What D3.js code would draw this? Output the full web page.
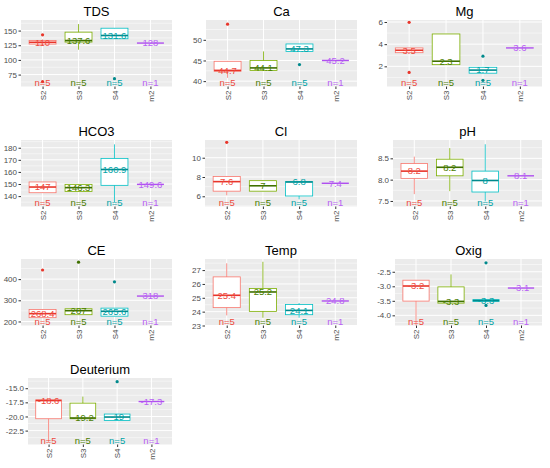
<!DOCTYPE html>
<html>
<head>
<meta charset="utf-8">
<script src="https://cdn.jsdelivr.net/npm/d3@7"></script>
<style>
  body { margin: 0; background: #fff; }
  svg { font-family: "Liberation Sans", Arial, sans-serif; }
</style>
</head>
<body>
<div class="wrapper"></div>
<script>
width = 550;
height = 468;

/* Data */
variables = ["TDS", "Ca", "Mg", "HCO3", "Cl", "pH", "CE", "Temp", "Oxig", "Deuterium"];
groups = ["S2", "S3", "S4", "m2"];
nLabels = ["n=5", "n=5", "n=5", "n=1"];

yDomains = [[54.7, 168], [38.7, 54.8], [0.18, 6.18], [131.4, 186.4], [4.94, 11.84],
  [7.37, 8.93], [181, 495], [23.0, 27.8], [-4.35, -2.06], [-24.96, -13.19]];

yTicks = [[75, 100, 125, 150], [40, 45, 50], [2, 4, 6], [140, 150, 160, 170, 180], [6, 8, 10],
  [7.5, 8.0, 8.5], [200, 300, 400], [23, 24, 25, 26, 27], [-4.0, -3.5, -3.0, -2.5], [-22.5, -20.0, -17.5, -15.0]];

yTickLabels = [["75", "100", "125", "150"], ["40", "45", "50"], ["2", "4", "6"],
  ["140", "150", "160", "170", "180"], ["6", "8", "10"], ["7.5", "8.0", "8.5"],
  ["200", "300", "400"], ["23", "24", "25", "26", "27"], ["-4.0", "-3.5", "-3.0", "-2.5"],
  ["-22.5", "-20.0", "-17.5", "-15.0"]];

// [lower whisker, q1, median, q3, upper whisker] for S2, S3, S4
boxStats = [
  [[125, 127, 130, 133, 135], [117.4, 130.4, 133, 147.3, 161], [136, 136, 141.6, 154, 154]],
  [[40.8, 42.4, 42.6, 44.8, 44.8], [42.6, 42.6, 43.2, 45, 47.2], [47.2, 47.2, 47.8, 49, 49]],
  [[3.23, 3.23, 3.45, 3.66, 3.66], [2.15, 2.15, 2.46, 4.92, 4.92], [1.38, 1.38, 1.66, 1.91, 1.91]],
  [[142.8, 142.8, 147.5, 151.7, 151.7], [143.9, 143.9, 147, 149.7, 149.7], [135, 148.9, 162, 171.2, 182.8]],
  [[6.1, 6.53, 7.52, 8.05, 8.05], [6.53, 6.53, 7.09, 7.62, 7.62], [5.68, 6.03, 7.48, 7.52, 7.52]],
  [[7.66, 8.03, 8.2, 8.38, 8.54], [7.73, 8.09, 8.29, 8.48, 8.74], [7.49, 7.71, 7.98, 8.2, 8.83]],
  [[218, 218, 237, 257, 257], [232, 232, 251, 260, 260], [225, 225, 248, 263, 263]],
  [[23.73, 24.29, 25.18, 26.51, 27.49], [23.56, 24.02, 25.42, 25.67, 27.6], [23.56, 23.78, 24.09, 24.51, 24.62]],
  [[-4.35, -3.51, -2.99, -2.79, -2.79], [-3.58, -3.58, -3.52, -3.02, -2.59], [-3.52, -3.52, -3.49, -3.46, -3.46]],
  [[-24.5, -20.4, -17.18, -17.06, -17.06], [-20.4, -20.4, -20.27, -17.64, -16.48], [-20.7, -20.7, -20.1, -19.57, -19.57]]
];

// single m2 sample
m2Values = [128.7, 45.0, 3.66, 149.7, 7.35, 8.09, 320, 24.77, -3.06, -17.36];

// outliers: [group index, value]
outliers = [
  [[0, 142.7], [0, 63], [2, 68]],
  [[0, 53.8], [2, 44]],
  [[0, 5.97], [0, 1.45], [2, 2.92], [2, 0.74]],
  [],
  [[0, 11.6]],
  [],
  [[0, 443], [1, 480], [2, 387]],
  [],
  [[2, -2.19], [2, -3.66]],
  [[2, -13.84]]
];

medianLabels = [
  ["110", "137.6", "131.6", "128"],
  ["44.7", "44.1", "47.3", "45.2"],
  ["3.5", "2.3", "1.7", "3.6"],
  ["147", "146.3", "160.9", "149.6"],
  ["7.6", "7", "6.8", "7.4"],
  ["8.2", "8.2", "8", "8.1"],
  ["268.4", "287", "265.6", "318"],
  ["25.4", "25.2", "24.1", "24.8"],
  ["-3.2", "-3.3", "-3.3", "-3.1"],
  ["-18.6", "-19.2", "-19", "-17.3"]
];

/* Layout */
panelLeft = [21, 206, 387, 21, 205, 393, 21, 205, 395, 28];
colRight = [172, 357, 542];
rowTop = [20, 140, 259, 378];
panelH = 66.5;

boxColor = ["#F8766D", "#7CAE00", "#00BFC4", "#C77CFF"];
darkColor = ["#E8352A", "#3F7000", "#00898C", "#B050F0"];
textColor = ["#EE4A40", "#4A7D00", "#00A3A6", "#B860F5"];

/* Initialize canvas */
svg = d3.select(".wrapper")
  .append("svg")
  .attr("width", width)
  .attr("height", height)
  .attr("viewBox", "0 0 " + width + " " + height);

function drawPanel(i) {
  var row = Math.floor(i / 3), col = i % 3;
  var x0 = panelLeft[i], x1 = colRight[col];
  var y0 = rowTop[row], y1 = y0 + panelH;

  var x = d3.scalePoint().domain(groups).range([x0, x1]).padding(0.6);
  var y = d3.scaleLinear().domain(yDomains[i]).range([y1, y0]);
  var bw = x.step() * 0.75;

  var g = svg.append("g").classed("panel", true);

  // background + grid
  g.append("rect")
    .attr("x", x0).attr("y", y0)
    .attr("width", x1 - x0).attr("height", y1 - y0)
    .attr("fill", "#EBEBEB");

  var ticks = yTicks[i];
  var stepT = ticks[1] - ticks[0];
  var minor = [];
  for (var k = -1; k < ticks.length; k++) {
    var m = ticks[0] + (k + 0.5) * stepT;
    if (m > yDomains[i][0] && m < yDomains[i][1]) minor.push(m);
  }
  g.selectAll(".minor").data(minor).enter().append("line")
    .attr("x1", x0).attr("x2", x1)
    .attr("y1", function (d) { return y(d) }).attr("y2", function (d) { return y(d) })
    .attr("stroke", "#fff").attr("stroke-width", 0.5);
  g.selectAll(".major").data(ticks).enter().append("line")
    .attr("x1", x0).attr("x2", x1)
    .attr("y1", function (d) { return y(d) }).attr("y2", function (d) { return y(d) })
    .attr("stroke", "#fff").attr("stroke-width", 1);
  g.selectAll(".vgrid").data(groups).enter().append("line")
    .attr("x1", function (d) { return x(d) }).attr("x2", function (d) { return x(d) })
    .attr("y1", y0).attr("y2", y1)
    .attr("stroke", "#fff").attr("stroke-width", 1);

  // y axis
  var ya = g.append("g")
    .attr("transform", "translate(" + x0 + ",0)")
    .call(d3.axisLeft(y).tickValues(ticks).tickSize(2.5).tickPadding(1.5)
      .tickFormat(function (d, j) { return yTickLabels[i][j] }));
  ya.select(".domain").remove();
  ya.selectAll("line").attr("stroke", "#333");
  ya.selectAll("text").attr("font-size", 8).attr("fill", "#4D4D4D")
    .attr("font-family", "Liberation Sans, Arial, sans-serif");

  // x axis
  var xa = g.append("g")
    .attr("transform", "translate(0," + y1 + ")")
    .call(d3.axisBottom(x).tickSize(2.5).tickPadding(2));
  xa.select(".domain").remove();
  xa.selectAll("line").attr("stroke", "#333");
  xa.selectAll("text")
    .attr("font-size", 8).attr("fill", "#4D4D4D")
    .attr("font-family", "Liberation Sans, Arial, sans-serif")
    .attr("text-anchor", "end")
    .attr("dy", "0.35em")
    .attr("transform", "translate(0,4) rotate(-90)")
    .attr("x", 0).attr("y", 0);

  // boxes
  var bs = boxStats[i];
  var bx = g.selectAll(".box").data(bs).enter().append("g");
  bx.append("line")
    .attr("x1", function (d, j) { return x(groups[j]) }).attr("x2", function (d, j) { return x(groups[j]) })
    .attr("y1", function (d) { return y(d[4]) }).attr("y2", function (d) { return y(d[0]) })
    .attr("stroke", function (d, j) { return boxColor[j] }).attr("stroke-width", 0.8);
  bx.append("rect")
    .attr("x", function (d, j) { return x(groups[j]) - bw / 2 })
    .attr("y", function (d) { return y(d[3]) })
    .attr("width", bw)
    .attr("height", function (d) { return Math.max(y(d[1]) - y(d[3]), 0.5) })
    .attr("fill", "#fff")
    .attr("stroke", function (d, j) { return boxColor[j] }).attr("stroke-width", 0.8);
  bx.append("line")
    .attr("x1", function (d, j) { return x(groups[j]) - bw / 2 })
    .attr("x2", function (d, j) { return x(groups[j]) + bw / 2 })
    .attr("y1", function (d) { return y(d[2]) }).attr("y2", function (d) { return y(d[2]) })
    .attr("stroke", function (d, j) { return darkColor[j] }).attr("stroke-width", 1.6);

  // m2 single line
  g.append("line")
    .attr("x1", x("m2") - bw / 2).attr("x2", x("m2") + bw / 2)
    .attr("y1", y(m2Values[i])).attr("y2", y(m2Values[i]))
    .attr("stroke", darkColor[3]).attr("stroke-width", 1.4);

  // outliers
  g.selectAll(".out").data(outliers[i]).enter().append("circle")
    .attr("cx", function (d) { return x(groups[d[0]]) })
    .attr("cy", function (d) { return y(d[1]) })
    .attr("r", 1.6)
    .attr("fill", function (d) { return darkColor[d[0]] });

  // median labels
  var meds = bs.map(function (d) { return d[2] }).concat([m2Values[i]]);
  g.selectAll(".medlab").data(medianLabels[i]).enter().append("text")
    .attr("x", function (d, j) { return x(groups[j]) })
    .attr("y", function (d, j) { return y(meds[j]) })
    .attr("dy", "0.35em")
    .attr("text-anchor", "middle")
    .attr("font-size", 9.5)
    .attr("fill", function (d, j) { return textColor[j] })
    .text(function (d) { return d });

  // count labels
  g.selectAll(".nlab").data(nLabels).enter().append("text")
    .attr("x", function (d, j) { return x(groups[j]) })
    .attr("y", y1 - 0.5)
    .attr("text-anchor", "middle")
    .attr("font-size", 9.5)
    .attr("fill", function (d, j) { return textColor[j] })
    .text(function (d) { return d });

  // title
  g.append("text")
    .attr("x", (x0 + x1) / 2)
    .attr("y", y0 - 4)
    .attr("text-anchor", "middle")
    .attr("font-size", 13)
    .attr("fill", "#000")
    .text(variables[i]);
}

variables.forEach(function (v, i) { drawPanel(i); });
</script>
</body>
</html>
